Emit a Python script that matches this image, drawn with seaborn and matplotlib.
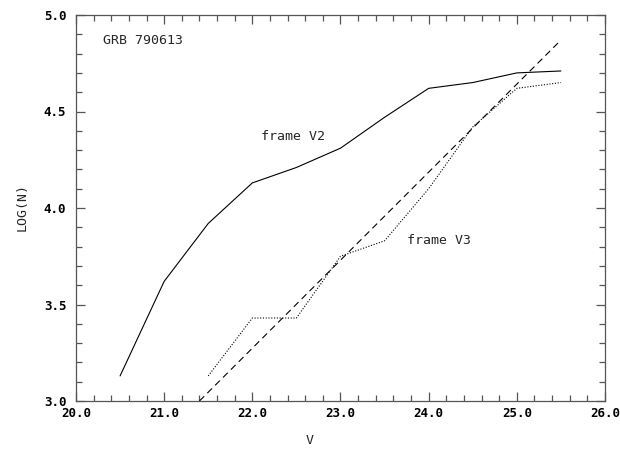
import matplotlib
matplotlib.use("Agg")
import matplotlib.pyplot as plt
import seaborn as sns
import pandas as pd
from matplotlib.ticker import MultipleLocator, FormatStrFormatter

# data
v2_x = [20.5, 21.0, 21.5, 22.0, 22.5, 23.0, 23.5, 24.0, 24.5, 25.0, 25.5]
v2_y = [3.13, 3.62, 3.92, 4.13, 4.21, 4.31, 4.47, 4.62, 4.65, 4.70, 4.71]
v3_x = [21.5, 22.0, 22.5, 23.0, 23.5, 24.0, 24.5, 25.0, 25.5]
v3_y = [3.13, 3.43, 3.43, 3.75, 3.83, 4.10, 4.42, 4.62, 4.65]
fit_x = [21.4, 25.5]
fit_y = [3.00, 4.87]

sns.set_theme(style="white")
plt.rcParams['font.family'] = ['DejaVu Sans Mono', 'DejaVu Sans']

fig = plt.figure(figsize=(6.2, 4.5), dpi=100)
ax = fig.add_axes([76/620, 1 - 401/450, (605-76)/620, (401-15)/450])

sns.lineplot(x=v2_x, y=v2_y, ax=ax, color="black", linewidth=0.8, linestyle="-", sort=False)
sns.lineplot(x=v3_x, y=v3_y, ax=ax, color="black", linewidth=0.8, linestyle=(0, (1, 1.5)), sort=False)
sns.lineplot(x=fit_x, y=fit_y, ax=ax, color="black", linewidth=0.8, linestyle=(0, (6, 4)), sort=False)

ax.set_xlim(20, 26)
ax.set_ylim(3, 5)
ax.xaxis.set_major_locator(MultipleLocator(1))
ax.xaxis.set_minor_locator(MultipleLocator(0.2))
ax.yaxis.set_major_locator(MultipleLocator(0.5))
ax.yaxis.set_minor_locator(MultipleLocator(0.1))
ax.xaxis.set_major_formatter(FormatStrFormatter('%.1f'))
ax.yaxis.set_major_formatter(FormatStrFormatter('%.1f'))

for s in ax.spines.values():
    s.set_color("#555555")
    s.set_linewidth(0.9)
ax.tick_params(which='both', direction='in', top=True, right=True,
               bottom=True, left=True, color="#555555", width=0.9,
               labelsize=9, labelcolor="black")
ax.tick_params(which='major', length=6.5)
ax.tick_params(which='minor', length=4.3)
ax.tick_params(axis='x', pad=4)
ax.tick_params(axis='y', pad=7)
for lbl in ax.get_xticklabels() + ax.get_yticklabels():
    lbl.set_fontweight('bold')

ax.text(20.31, 4.87, "GRB 790613", fontsize=9.5, va='center', ha='left')
ax.text(22.1, 4.37, "frame V2", fontsize=9.5, va='center', ha='left')
ax.text(23.75, 3.83, "frame V3", fontsize=9.5, va='center', ha='left')

fig.text(310/620, 1 - 440/450, "V", fontsize=9.5, ha='center', va='center')
fig.text(22/620, 1 - 207/450, "LOG(N)", fontsize=9.5, ha='center', va='center', rotation=90)

fig.savefig("out.png", dpi=100)
